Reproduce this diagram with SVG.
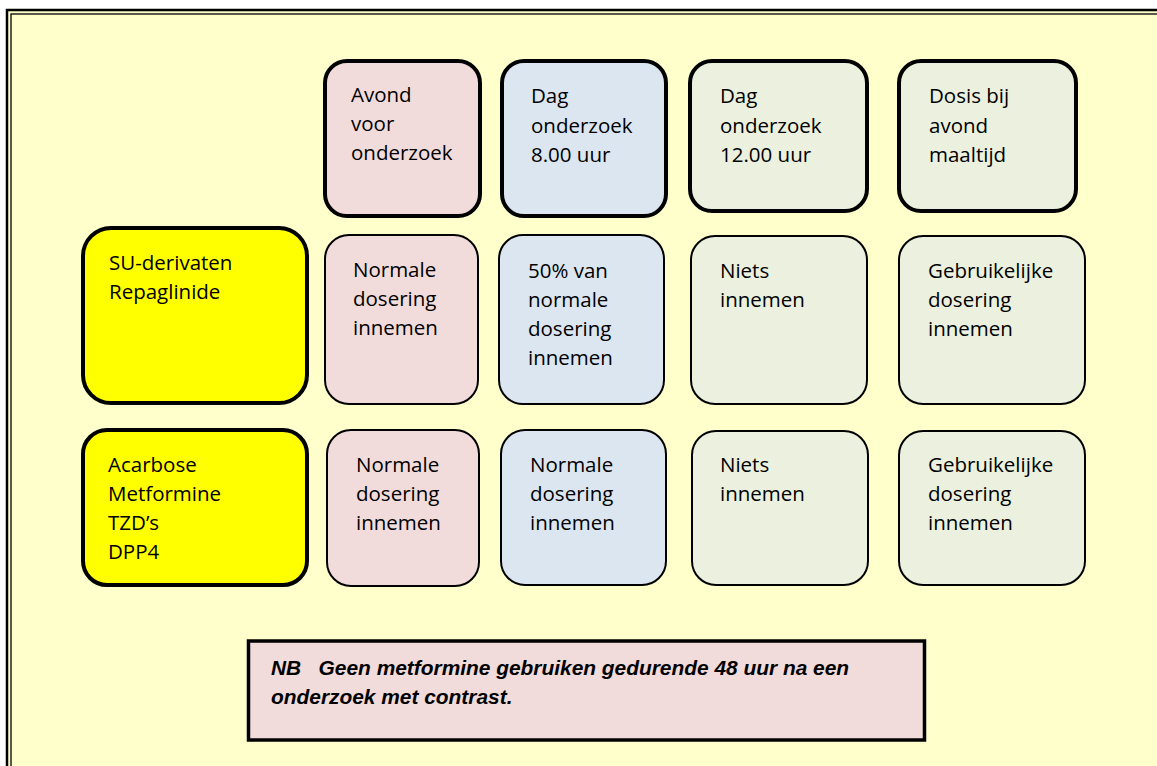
<svg xmlns="http://www.w3.org/2000/svg" width="1157" height="766" viewBox="0 0 1157 766">
<style>
.t{font-family:"Open Sans","Liberation Sans",sans-serif;font-size:20.5px;fill:#000}
.nb{font-family:"Liberation Sans",Arial,sans-serif;font-size:20.9px;font-weight:bold;font-style:italic;fill:#000}
.thick{stroke:#000;stroke-width:4}
.thin{stroke:#000;stroke-width:2}
.pink{fill:#F2DCDB}
.blue{fill:#DCE6F1}
.green{fill:#EBF1DE}
.yellow{fill:#FFFF00}
</style>
<rect x="0" y="0" width="1157" height="766" fill="#FFFFFF"/>
<rect x="7" y="10" width="1200" height="800" fill="#FFFFCC" stroke="#000" stroke-width="2.5"/>
<rect x="11" y="14" width="1200" height="800" fill="none" stroke="#000" stroke-width="1.3"/>

<g id="h1"><rect class="thick pink" x="325" y="61" width="155" height="155" rx="22"/>
<text class="t" x="351"><tspan x="351" y="102">Avond</tspan><tspan x="351" y="131">voor</tspan><tspan x="351" y="160">onderzoek</tspan></text></g>
<g id="h2"><rect class="thick blue" x="502" y="61" width="164" height="155" rx="22"/>
<text class="t"><tspan x="531" y="103">Dag</tspan><tspan x="531" y="133">onderzoek</tspan><tspan x="531" y="162">8.00 uur</tspan></text></g>
<g id="h3"><rect class="thick green" x="690" y="61" width="177" height="150" rx="22"/>
<text class="t"><tspan x="720" y="103">Dag</tspan><tspan x="720" y="133">onderzoek</tspan><tspan x="720" y="162">12.00 uur</tspan></text></g>
<g id="h4"><rect class="thick green" x="899" y="61" width="177" height="150" rx="22"/>
<text class="t"><tspan x="929" y="103">Dosis bij</tspan><tspan x="929" y="133">avond</tspan><tspan x="929" y="162">maaltijd</tspan></text></g>

<g id="r1"><rect class="thick yellow" x="83" y="228" width="224" height="175" rx="28"/>
<text class="t"><tspan x="109" y="270">SU-derivaten</tspan><tspan x="109" y="299">Repaglinide</tspan></text></g>
<g id="r1c1"><rect class="thin pink" x="325" y="235" width="153" height="169" rx="24"/>
<text class="t"><tspan x="353" y="277">Normale</tspan><tspan x="353" y="306">dosering</tspan><tspan x="353" y="335">innemen</tspan></text></g>
<g id="r1c2"><rect class="thin blue" x="499" y="235" width="165" height="169" rx="24"/>
<text class="t"><tspan x="528" y="278">50% van</tspan><tspan x="528" y="307">normale</tspan><tspan x="528" y="336">dosering</tspan><tspan x="528" y="365">innemen</tspan></text></g>
<g id="r1c3"><rect class="thin green" x="691" y="236" width="176" height="168" rx="24"/>
<text class="t"><tspan x="720" y="278">Niets</tspan><tspan x="720" y="307">innemen</tspan></text></g>
<g id="r1c4"><rect class="thin green" x="899" y="236" width="186" height="168" rx="24"/>
<text class="t"><tspan x="928" y="278">Gebruikelijke</tspan><tspan x="928" y="307">dosering</tspan><tspan x="928" y="336">innemen</tspan></text></g>

<g id="r2"><rect class="thick yellow" x="83" y="430" width="224" height="155" rx="24"/>
<text class="t"><tspan x="108" y="472">Acarbose</tspan><tspan x="108" y="501">Metformine</tspan><tspan x="108" y="530">TZD’s</tspan><tspan x="108" y="559">DPP4</tspan></text></g>
<g id="r2c1"><rect class="thin pink" x="327" y="430" width="152" height="156" rx="24"/>
<text class="t"><tspan x="356" y="472">Normale</tspan><tspan x="356" y="501">dosering</tspan><tspan x="356" y="530">innemen</tspan></text></g>
<g id="r2c2"><rect class="thin blue" x="501" y="430" width="165" height="155" rx="24"/>
<text class="t"><tspan x="530" y="472">Normale</tspan><tspan x="530" y="501">dosering</tspan><tspan x="530" y="530">innemen</tspan></text></g>
<g id="r2c3"><rect class="thin green" x="692" y="431" width="176" height="154" rx="24"/>
<text class="t"><tspan x="720" y="472">Niets</tspan><tspan x="720" y="501">innemen</tspan></text></g>
<g id="r2c4"><rect class="thin green" x="899" y="431" width="186" height="154" rx="24"/>
<text class="t"><tspan x="928" y="472">Gebruikelijke</tspan><tspan x="928" y="501">dosering</tspan><tspan x="928" y="530">innemen</tspan></text></g>

<g id="note"><rect x="248.5" y="641" width="676" height="99" fill="#F2DCDB" stroke="#000" stroke-width="3.5"/>
<text class="nb" xml:space="preserve"><tspan x="271" y="675">NB   Geen metformine gebruiken gedurende 48 uur na een</tspan><tspan x="271" y="704">onderzoek met contrast.</tspan></text></g>
<g id="connectors"></g>
</svg>
